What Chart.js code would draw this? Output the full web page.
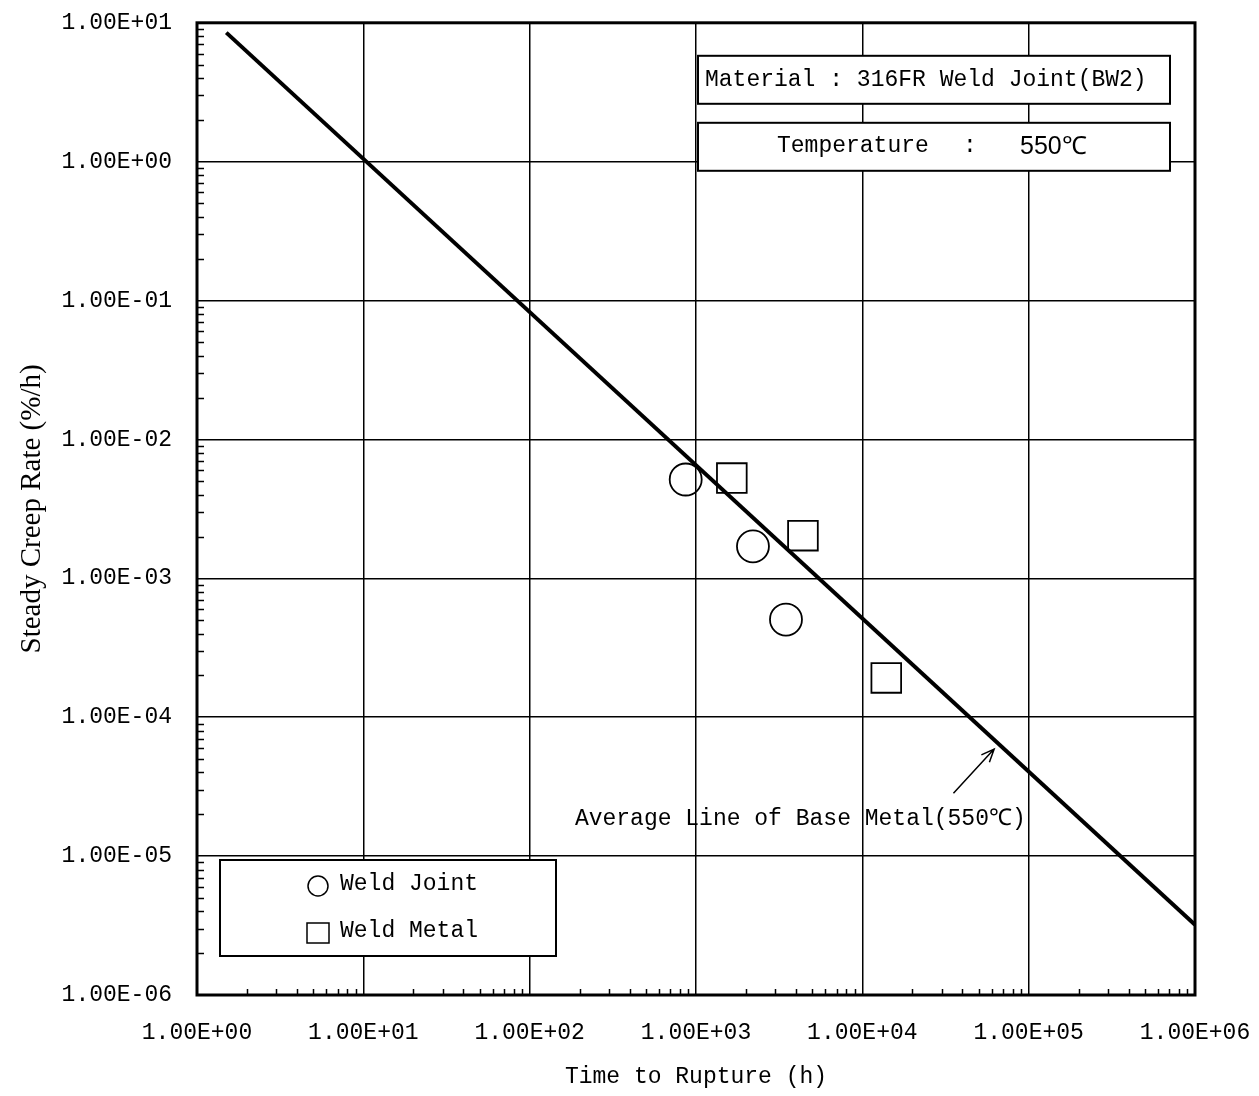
<!DOCTYPE html>
<html>
<head>
<meta charset="utf-8">
<script src="https://cdn.jsdelivr.net/npm/chart.js@4"></script>
<style>
html, body { margin: 0; padding: 0; background: #fff; }
</style>
</head>
<body>
<canvas id="creep" width="1259" height="1096"></canvas>
<script>
// axis ticks
const xTickValues = [1e0, 1e1, 1e2, 1e3, 1e4, 1e5, 1e6];
const xTickLabels = ['1.00E+00', '1.00E+01', '1.00E+02', '1.00E+03', '1.00E+04', '1.00E+05', '1.00E+06'];
const yTickValues = [1e-6, 1e-5, 1e-4, 1e-3, 1e-2, 1e-1, 1e0, 1e1];
const yTickLabels = ['1.00E-06', '1.00E-05', '1.00E-04', '1.00E-03', '1.00E-02', '1.00E-01', '1.00E+00', '1.00E+01'];

// measured points
const weldJointTime = [867, 2200, 3475];
const weldJointRate = [5.15e-3, 1.70e-3, 5.05e-4];
const weldMetalTime = [1642, 4395, 13930];
const weldMetalRate = [5.27e-3, 2.03e-3, 1.92e-4];

// average line of base metal
const baseLineTime = [1.5, 1e6];
const baseLineRate = [8.5, 3.2e-6];

// annotation anchor (data coords)
const arrowTail = { x: 3.53e4, y: 2.84e-5 };
const arrowTip = { x: 6.2e4, y: 5.9e-5 };
const noteAnchor = { x: 187, y: 1.85e-5 };

const mono = '"Liberation Mono", "DejaVu Sans Mono", monospace';

function pairs(xs, ys) {
    return xs.map((v, i) => ({ x: v, y: ys[i] }));
}

const decor = {
    id: 'decor',
    beforeDatasetsDraw(chart) {
        const { ctx, chartArea: a, scales: { x, y } } = chart;
        ctx.save();
        ctx.strokeStyle = '#000';

        // minor ticks on left and bottom
        ctx.lineWidth = 1.5;
        ctx.beginPath();
        for (let e = 0; e < 6; e++) {
            for (let k = 2; k <= 9; k++) {
                const px = Math.round(x.getPixelForValue(k * Math.pow(10, e))) + 0.5;
                ctx.moveTo(px, a.bottom);
                ctx.lineTo(px, a.bottom - 6);
            }
        }
        for (let e = -6; e < 1; e++) {
            for (let k = 2; k <= 9; k++) {
                const py = Math.round(y.getPixelForValue(k * Math.pow(10, e))) + 0.5;
                ctx.moveTo(a.left, py);
                ctx.lineTo(a.left + 7, py);
            }
        }
        ctx.stroke();

        // info boxes
        ctx.lineWidth = 2;
        const boxes = [
            [a.left + 501, a.top + 33, 472, 48],
            [a.left + 501, a.top + 100, 472, 48],
            [a.left + 23, a.bottom - 135, 336, 96]
        ];
        boxes.forEach(b => {
            ctx.fillStyle = '#fff';
            ctx.fillRect(b[0], b[1], b[2], b[3]);
            ctx.strokeRect(b[0], b[1], b[2], b[3]);
        });

        ctx.fillStyle = '#000';
        ctx.textBaseline = 'middle';
        ctx.textAlign = 'left';
        ctx.font = '23px ' + mono;
        ctx.fillText('Material : 316FR Weld Joint(BW2)', a.left + 508, a.top + 57);
        ctx.fillText('Temperature', a.left + 580, a.top + 123);
        ctx.fillText(':', a.left + 766, a.top + 123);
        ctx.font = '25px "Liberation Sans", sans-serif';
        ctx.fillText('550℃', a.left + 823, a.top + 124);

        // legend
        const ds = chart.data.datasets;
        ctx.font = '23px ' + mono;
        ctx.lineWidth = 1.5;
        const lx = a.left + 121, ly1 = a.bottom - 109, ly2 = a.bottom - 62;
        ctx.beginPath();
        ctx.arc(lx, ly1, 10, 0, Math.PI * 2);
        ctx.stroke();
        ctx.strokeRect(lx - 11, ly2 - 10, 22, 20);
        ctx.fillText(ds[0].label, lx + 22, ly1 - 2);
        ctx.fillText(ds[1].label, lx + 22, ly2 - 2);
        ctx.restore();
    },
    afterDatasetsDraw(chart) {
        const { ctx, chartArea: a, scales: { x, y } } = chart;
        ctx.save();
        ctx.strokeStyle = '#000';
        ctx.fillStyle = '#000';

        // arrow to the average line
        const tx = x.getPixelForValue(arrowTail.x), ty = y.getPixelForValue(arrowTail.y);
        const hx = x.getPixelForValue(arrowTip.x), hy = y.getPixelForValue(arrowTip.y);
        const ang = Math.atan2(hy - ty, hx - tx);
        ctx.lineWidth = 1.5;
        ctx.beginPath();
        ctx.moveTo(tx, ty);
        ctx.lineTo(hx, hy);
        ctx.moveTo(hx - 14 * Math.cos(ang - 0.4), hy - 14 * Math.sin(ang - 0.4));
        ctx.lineTo(hx, hy);
        ctx.lineTo(hx - 14 * Math.cos(ang + 0.4), hy - 14 * Math.sin(ang + 0.4));
        ctx.stroke();

        ctx.font = '23px ' + mono;
        ctx.textBaseline = 'middle';
        ctx.textAlign = 'left';
        ctx.fillText('Average Line of Base Metal(550℃)', x.getPixelForValue(noteAnchor.x), y.getPixelForValue(noteAnchor.y));

        // frame
        ctx.lineWidth = 3;
        ctx.strokeRect(a.left, a.top, a.right - a.left, a.bottom - a.top);
        ctx.restore();
    }
};

new Chart(document.getElementById('creep'), {
    type: 'scatter',
    data: {
        datasets: [{
            label: 'Weld Joint',
            data: pairs(weldJointTime, weldJointRate),
            pointStyle: 'circle',
            pointRadius: 16,
            pointBorderWidth: 1.8,
            borderColor: '#000',
            backgroundColor: 'rgba(0,0,0,0)'
        }, {
            label: 'Weld Metal',
            data: pairs(weldMetalTime, weldMetalRate),
            pointStyle: 'rect',
            pointRadius: 21,
            pointBorderWidth: 1.8,
            borderColor: '#000',
            backgroundColor: 'rgba(0,0,0,0)'
        }, {
            label: 'Average Line of Base Metal',
            data: pairs(baseLineTime, baseLineRate),
            showLine: true,
            pointRadius: 0,
            borderColor: '#000',
            borderWidth: 4
        }]
    },
    options: {
        responsive: false,
        animation: false,
        layout: { padding: { left: 0, top: 20, right: 64, bottom: 0 } },
        plugins: {
            legend: { display: false },
            tooltip: { enabled: false }
        },
        scales: {
            x: {
                type: 'logarithmic',
                min: 1,
                max: 1e6,
                afterBuildTicks: s => { s.ticks = xTickValues.map(v => ({ value: v })); },
                afterFit: s => { s.height = 101; s.paddingLeft = 0; s.paddingRight = 0; },
                grid: { color: '#000', lineWidth: 1.5, drawTicks: false },
                border: { display: false },
                ticks: {
                    autoSkip: false,
                    maxRotation: 0,
                    padding: 24,
                    color: '#000',
                    font: { family: mono, size: 23 },
                    callback: (v, i) => xTickLabels[i]
                },
                title: {
                    display: true,
                    text: 'Time to Rupture (h)',
                    color: '#000',
                    font: { family: mono, size: 23 },
                    padding: { top: 0, bottom: 5 }
                }
            },
            y: {
                type: 'logarithmic',
                min: 1e-6,
                max: 1e1,
                afterBuildTicks: s => { s.ticks = yTickValues.map(v => ({ value: v })); },
                afterFit: s => { s.width = 197; s.paddingTop = 0; s.paddingBottom = 0; },
                grid: { color: '#000', lineWidth: 1.5, drawTicks: false },
                border: { display: false },
                ticks: {
                    autoSkip: false,
                    padding: 25,
                    color: '#000',
                    font: { family: mono, size: 23 },
                    callback: (v, i) => yTickLabels[i]
                },
                title: {
                    display: true,
                    text: 'Steady Creep Rate (%/h)',
                    color: '#000',
                    font: { family: '"Liberation Serif", serif', size: 29 },
                    padding: { top: 15, bottom: 0 }
                }
            }
        }
    },
    plugins: [decor]
});
</script>
</body>
</html>
